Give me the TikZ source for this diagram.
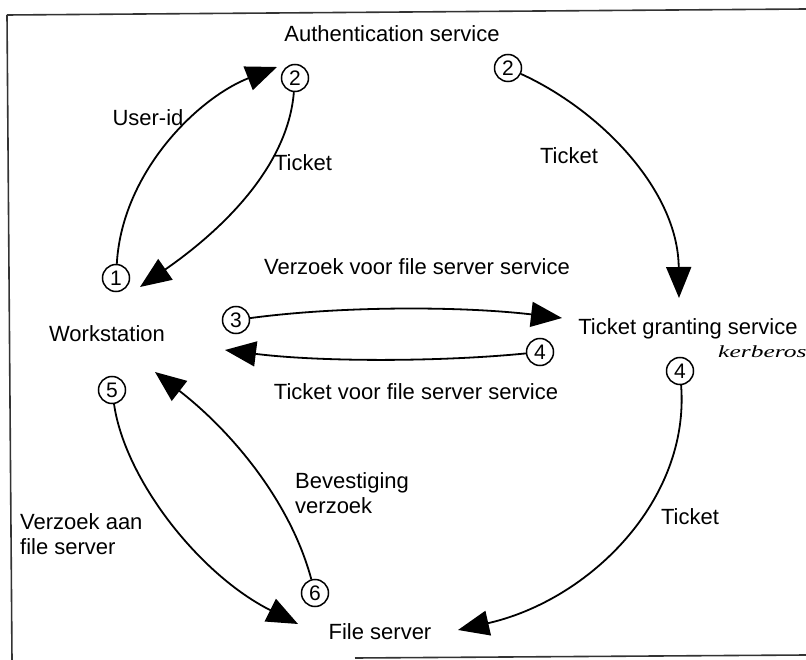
\documentclass[tikz,border=0pt]{standalone}
\usepackage{fontspec}
\setmainfont{Liberation Sans}
\newfontfamily\handfont{Liberation Serif}
\usetikzlibrary{arrows.meta}

\begin{document}
\begin{tikzpicture}[x=1pt,y=-1pt,
  lbl/.style={font=\fontsize{22}{25}\selectfont, inner sep=0pt},
  hand/.style={font=\handfont\itshape\fontsize{17}{17}\selectfont, inner sep=0pt},
  num/.style={circle, draw, line width=1.5pt, minimum size=27pt, inner sep=0pt,
              font=\fontsize{21}{21}\selectfont},
  flow/.style={line width=1.8pt, -{Triangle[length=31pt,width=25pt]}},
  frame/.style={line width=1.6pt, draw=black!80}]
\useasboundingbox (0,0) rectangle (806,660);

% outer frame
\draw[frame] (7,15) -- (806,9);
\draw[frame] (7,15) -- (12,660);
\draw[frame] (355,658) -- (806,655);

% labels
\node[lbl] (auth) at (392,34) {Authentication service};
\node[lbl] (uid) at (148,118) {User-id};
\node[lbl] (tk1) at (303,163) {Ticket};
\node[lbl] (tk2) at (569,156) {Ticket};
\node[lbl] (vfs) at (417,267) {Verzoek voor file server service};
\node[lbl] (ws) at (107,334) {Workstation};
\node[lbl] (tgs) at (688,329) {Ticket granting service};
\node[hand, anchor=west] (krb) at (718,352) {\scalebox{1.5}[1]{kerberos}};
\node[lbl] (tvfs) at (416,392) {Ticket voor file server service};
\node[lbl, align=left, anchor=west] (bev) at (295,493) {Bevestiging\\verzoek};
\node[lbl, align=left, anchor=west] (vaf) at (20,534) {Verzoek aan\\file server};
\node[lbl] (tk3) at (690,517) {Ticket};
\node[lbl] (fs) at (380,632) {File server};

% numbered steps
\node[num] (c1) at (116,278) {1};
\node[num] (c2a) at (295,78) {2};
\node[num] (c2b) at (508,68) {2};
\node[num] (c3) at (236,320) {3};
\node[num] (c4a) at (540,352) {4};
\node[num] (c4b) at (680,371) {4};
\node[num] (c5) at (112,390) {5};
\node[num] (c6) at (315,593) {6};

% arrow end points
\coordinate (t1) at (277,67);
\coordinate (t2) at (140,287);
\coordinate (t3) at (679,298);
\coordinate (t4) at (562,318);
\coordinate (t5) at (225,350);
\coordinate (t6) at (458,630);
\coordinate (t7) at (298,624);
\coordinate (t8) at (155,372);

% message flows
\draw[flow] (c1) .. controls (122,172) and (198,98) .. (t1);
\draw[flow] (c2a) .. controls (288,165) and (225,228) .. (t2);
\draw[flow] (c2b) .. controls (600,110) and (678,190) .. (t3);
\draw[flow] (c3) .. controls (340,306) and (460,306) .. (t4);
\draw[flow] (c4a) .. controls (440,362) and (320,362) .. (t5);
\draw[flow] (c4b) .. controls (690,500) and (590,600) .. (t6);
\draw[flow] (c5) .. controls (125,480) and (200,575) .. (t7);
\draw[flow] (c6) .. controls (290,500) and (230,430) .. (t8);
\end{tikzpicture}
\end{document}
